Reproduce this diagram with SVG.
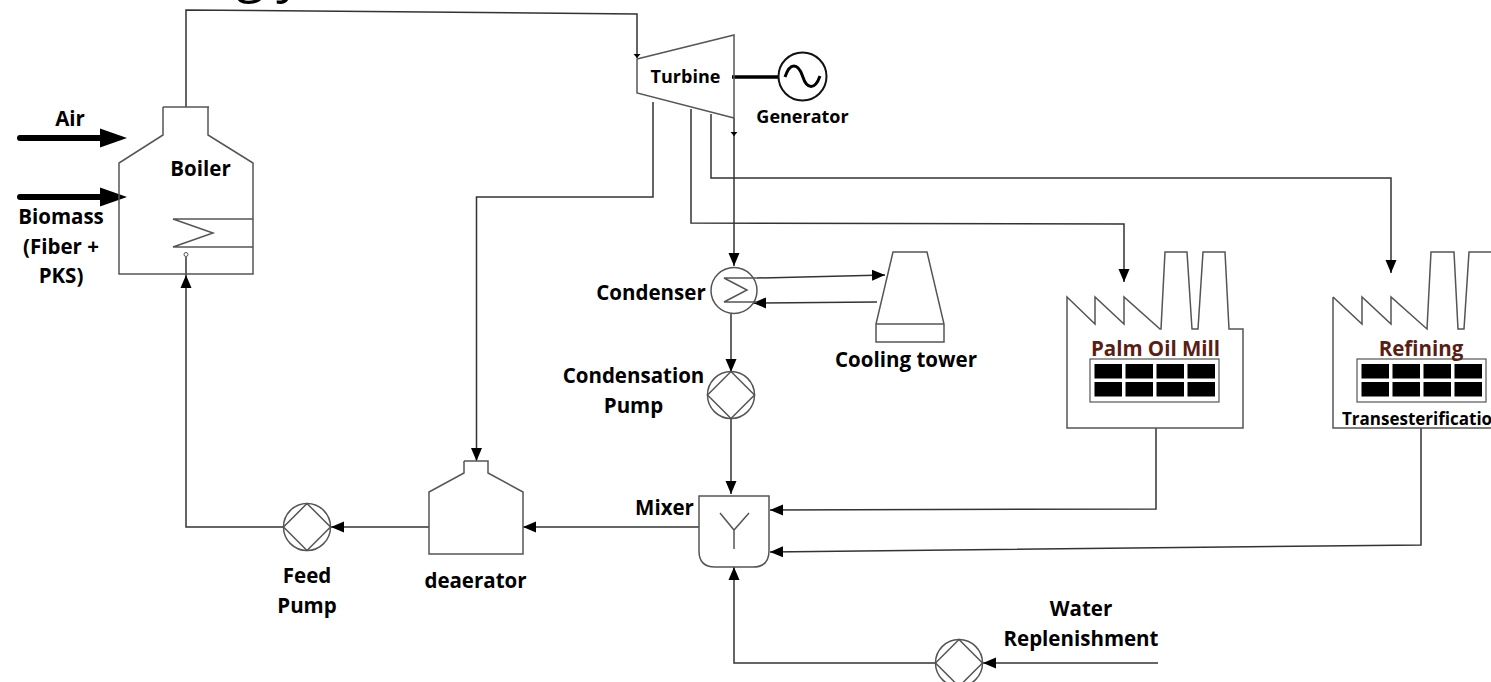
<svg xmlns="http://www.w3.org/2000/svg" width="1491" height="682" viewBox="0 0 1491 682">
<style>
text{font-family:"Open Sans","Noto Sans",sans-serif;font-weight:700;fill:#000;font-size:20.500px;text-anchor:middle}
.s{fill:#fff;stroke:#555;stroke-width:1.5}
.n{fill:none;stroke:#555;stroke-width:1.5}
.c{fill:none;stroke:#333;stroke-width:1.5}
.m{font-size:20.500px;fill:#5a1e14}
.w{fill:#000;stroke:none}
</style>
<defs>
<marker id="a" markerUnits="userSpaceOnUse" markerWidth="14" markerHeight="12" refX="13" refY="6" orient="auto"><path d="M0,0.500L13,6L0,11.500Z" fill="#000"/></marker>
<marker id="t" markerUnits="userSpaceOnUse" markerWidth="8" markerHeight="8" refX="4" refY="4" orient="auto"><path d="M0,0.500L4,4L0,7.500Z" fill="#000"/></marker>
<marker id="b" markerUnits="userSpaceOnUse" markerWidth="28" markerHeight="20" refX="0" refY="10" orient="auto"><path d="M0,0.500L27,10L0,19.500Z" fill="#000"/></marker>
<g id="pumpSym"><circle r="23.5" class="s"/><path d="M-23.5,0L0,-23.5L23.5,0L0,23.5Z" class="n"/></g>
<g id="win"><rect x="0" y="0" width="129" height="43" fill="#fff" stroke="#555" stroke-width="1.2"/><path class="w" d="M4.500,5h27.500v14.500h-27.500zM35.500,5h27.500v14.500h-27.500zM66.500,5h27.500v14.500h-27.500zM97.500,5h27.500v14.500h-27.500zM4.500,23h27.500v14.500h-27.500zM35.500,23h27.500v14.500h-27.500zM66.500,23h27.500v14.500h-27.500zM97.500,23h27.500v14.500h-27.500z"/></g>
</defs>
<text x="236" y="-8" style="font-size:52px;font-weight:400;text-anchor:start;letter-spacing:12px">gy</text>
<g id="connectors">
<path class="c" d="M186,107V10L637,14V58" marker-end="url(#t)"/>
<path class="c" d="M734,118V266" marker-end="url(#a)"/>
<path class="c" d="M734,134V136" marker-end="url(#t)"/>
<path class="c" d="M653,102V197H476.500V461" marker-end="url(#a)"/>
<path class="c" d="M691,109V223L1124,224V282" marker-end="url(#a)"/>
<path class="c" d="M711,114V178L1391,178V273" marker-end="url(#a)"/>
<path class="c" d="M757,278L885,275" marker-end="url(#a)"/>
<path class="c" d="M877,302L753,303" marker-end="url(#a)"/>
<path class="c" d="M731,314V372" marker-end="url(#a)"/>
<path class="c" d="M731,419V494" marker-end="url(#a)"/>
<path class="c" d="M1156,428V509L770,510" marker-end="url(#a)"/>
<path class="c" d="M1421,428V545L770,552" marker-end="url(#a)"/>
<path class="c" d="M699,527H523" marker-end="url(#a)"/>
<path class="c" d="M429,527H331" marker-end="url(#a)"/>
<path class="c" d="M284,527H186V275" marker-end="url(#a)"/>
<path class="c" d="M186,275V257"/>
<path class="c" d="M1158,663H983" marker-end="url(#a)"/>
<path class="c" d="M936,663H734V567" marker-end="url(#a)"/>
<path d="M20,138H100" fill="none" stroke="#000" stroke-width="6" stroke-linecap="round" marker-end="url(#b)"/>
<path d="M20,197H100" fill="none" stroke="#000" stroke-width="6" stroke-linecap="round" marker-end="url(#b)"/>
<path d="M732,77H778" fill="none" stroke="#000" stroke-width="3.500"/>
</g>
<g id="boiler">
<path class="n" d="M163,107H209M163,107V135L119,163V274H253V163L208,135V107M253,219H173L213,233L173,247H253"/>
<circle cx="186" cy="254.500" r="2" fill="#fff" stroke="#555"/>
<text x="200.500" y="176">Boiler</text>
</g>
<g id="air"><text x="70" y="126">Air</text></g>
<g id="biomass"><text x="61" y="224">Biomass</text><text x="61" y="254">(Fiber +</text><text x="61" y="283">PKS)</text></g>
<g id="turbine">
<path class="n" d="M637,59L734,35V118L637,93Z"/>
<text x="685.500" y="83" style="font-size:18px">Turbine</text>
</g>
<g id="generator">
<circle cx="802.500" cy="76.500" r="24" fill="#fff" stroke="#111" stroke-width="2"/>
<path d="M785,77C790,62 798,63 802.500,76C807,90 815,90 820,76" fill="none" stroke="#000" stroke-width="3"/>
<text x="802.500" y="123" style="font-size:18px">Generator</text>
</g>
<g id="condenser">
<circle cx="734" cy="290.500" r="23" class="s"/>
<path class="n" d="M757,278H724L747,290L724,302H757"/>
<text x="651" y="300">Condenser</text>
</g>
<g id="cooling-tower">
<path class="n" d="M893,252H927L944,324V342H876V324ZM876,324H944"/>
<text x="906" y="367">Cooling tower</text>
</g>
<g id="condensation-pump">
<use href="#pumpSym" x="731" y="395"/>
<text x="633.500" y="383">Condensation</text><text x="633.500" y="413">Pump</text>
</g>
<g id="mixer">
<path class="n" d="M699,496H769V551Q769,567 753,567H715Q699,567 699,551Z" />
<path class="n" d="M720,513L734,530L749,513M734,530V549"/>
<text x="664.500" y="515">Mixer</text>
</g>
<g id="deaerator">
<path class="n" d="M464,461H488V473L523,492V554H429V492L464,473V461"/>
<text x="475.500" y="588">deaerator</text>
</g>
<g id="feed-pump">
<use href="#pumpSym" x="307" y="527"/>
<text x="307" y="583">Feed</text><text x="307" y="613">Pump</text>
</g>
<g id="water-pump">
<use href="#pumpSym" x="959" y="663"/>
<text x="1081" y="616">Water</text><text x="1081" y="646">Replenishment</text>
</g>
<g id="palm-oil-mill">
<path class="n" d="M1067,297L1095,324V297L1124,324V297L1160,329H1161L1165,252H1187L1192,329H1198L1203,252H1225L1229,329H1243V428H1067Z"/>
<use href="#win" x="1090" y="359"/>
<text x="1155.500" y="356" class="m" style="fill:#5a1e14">Palm Oil Mill</text>
</g>
<g id="refining">
<path class="n" d="M1333,297L1362,324V297L1391,324V297L1427,329L1431,252H1454L1458,329H1464L1469,252H1491M1333,297V428H1491"/>
<use href="#win" x="1357" y="359"/>
<text x="1421" y="356" class="m" style="fill:#5a1e14">Refining</text>
<text x="1342" y="425" style="font-size:17px;text-anchor:start">Transesterificatio</text>
</g>
</svg>
